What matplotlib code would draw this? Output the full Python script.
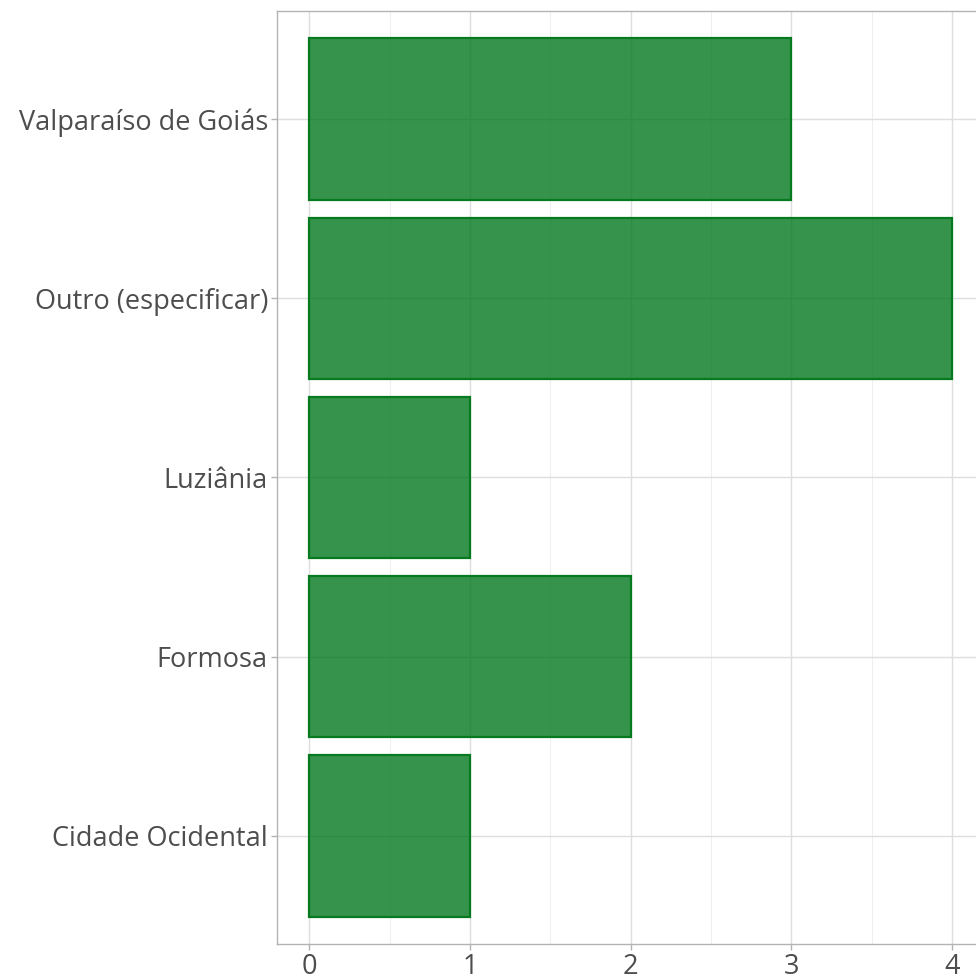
import matplotlib
matplotlib.use("Agg")
import matplotlib.pyplot as plt
from matplotlib.ticker import MultipleLocator

categories = ["Cidade Ocidental", "Formosa", "Luziânia", "Outro (especificar)", "Valparaíso de Goiás"]
values = [1, 2, 1, 4, 3]
xticks = [0, 1, 2, 3, 4]

plt.rcParams['font.family'] = ['Open Sans', 'DejaVu Sans']

W, H = 976, 975
fig = plt.figure(figsize=(W/100, H/100), dpi=100)
x0 = 308; ppu = 161.0
left = 277
right = x0 + 4.2*ppu
top = 11.4; bottom = 943.5
ax = fig.add_axes([left/W, (H-bottom)/H, (right-left)/W, (bottom-top)/H])

pos = list(range(1, len(categories)+1))
ax.barh(pos, values, height=0.9, color=(0.01, 0.47, 0.12, 0.8), edgecolor='#067A1E', linewidth=1.6, zorder=3)

ax.set_xlim(-0.2, 4.2)
ax.set_ylim(0.4, 5.6)
ax.set_yticks(pos)
ax.set_yticklabels(categories)
ax.set_xticks(xticks)
ax.set_xticklabels([str(t) for t in xticks])
ax.xaxis.set_minor_locator(MultipleLocator(0.5))

ax.grid(True, which='major', color='#DEDEDE', linewidth=1.0, zorder=0)
ax.grid(True, which='minor', axis='x', color='#EFEFEF', linewidth=0.8, zorder=0)
ax.set_axisbelow(True)

for s in ax.spines.values():
    s.set_color('#B3B3B3')
    s.set_linewidth(1.0)

ax.tick_params(axis='both', which='major', colors='#B3B3B3', length=4.5, width=1.0, labelsize=19.5, labelcolor='#4D4D4D', pad=2)
ax.tick_params(axis='x', which='minor', length=0)

fig.savefig("out.png", dpi=100)
